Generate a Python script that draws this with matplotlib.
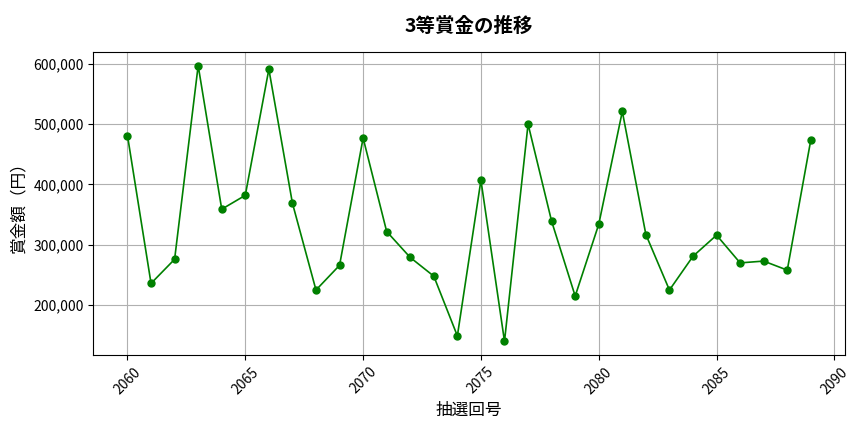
import matplotlib.pyplot as plt
from matplotlib.ticker import FuncFormatter

plt.rcParams['font.family'] = ['Noto Sans CJK JP', 'DejaVu Sans']

# 抽選回号と3等賞金
draws = list(range(2060, 2090))
prizes = [
    481000, 236000, 276000, 597000, 359000, 382000, 591000, 369000, 225000, 266000,
    477000, 322000, 279000, 248000, 149000, 407000, 140000, 500000, 339000, 215000,
    334000, 521000, 317000, 225000, 281000, 316000, 270000, 273000, 258000, 474000,
]

fig, ax = plt.subplots(figsize=(8.64, 4.32), dpi=100)
ax.plot(draws, prizes, color='green', marker='o', markersize=5, linewidth=1.2)

ax.set_title('3等賞金の推移', fontsize=14, fontweight='bold', pad=14)
ax.set_xlabel('抽選回号', fontsize=12, labelpad=4)
ax.set_ylabel('賞金額（円）', fontsize=12)
ax.yaxis.set_major_formatter(FuncFormatter(lambda v, p: f'{int(v):,}'))
ax.tick_params(axis='x', labelrotation=45)
ax.grid(True)

fig.subplots_adjust(left=0.108, right=0.978, top=0.88, bottom=0.178)
plt.savefig('out.png', dpi=100)
plt.close()
